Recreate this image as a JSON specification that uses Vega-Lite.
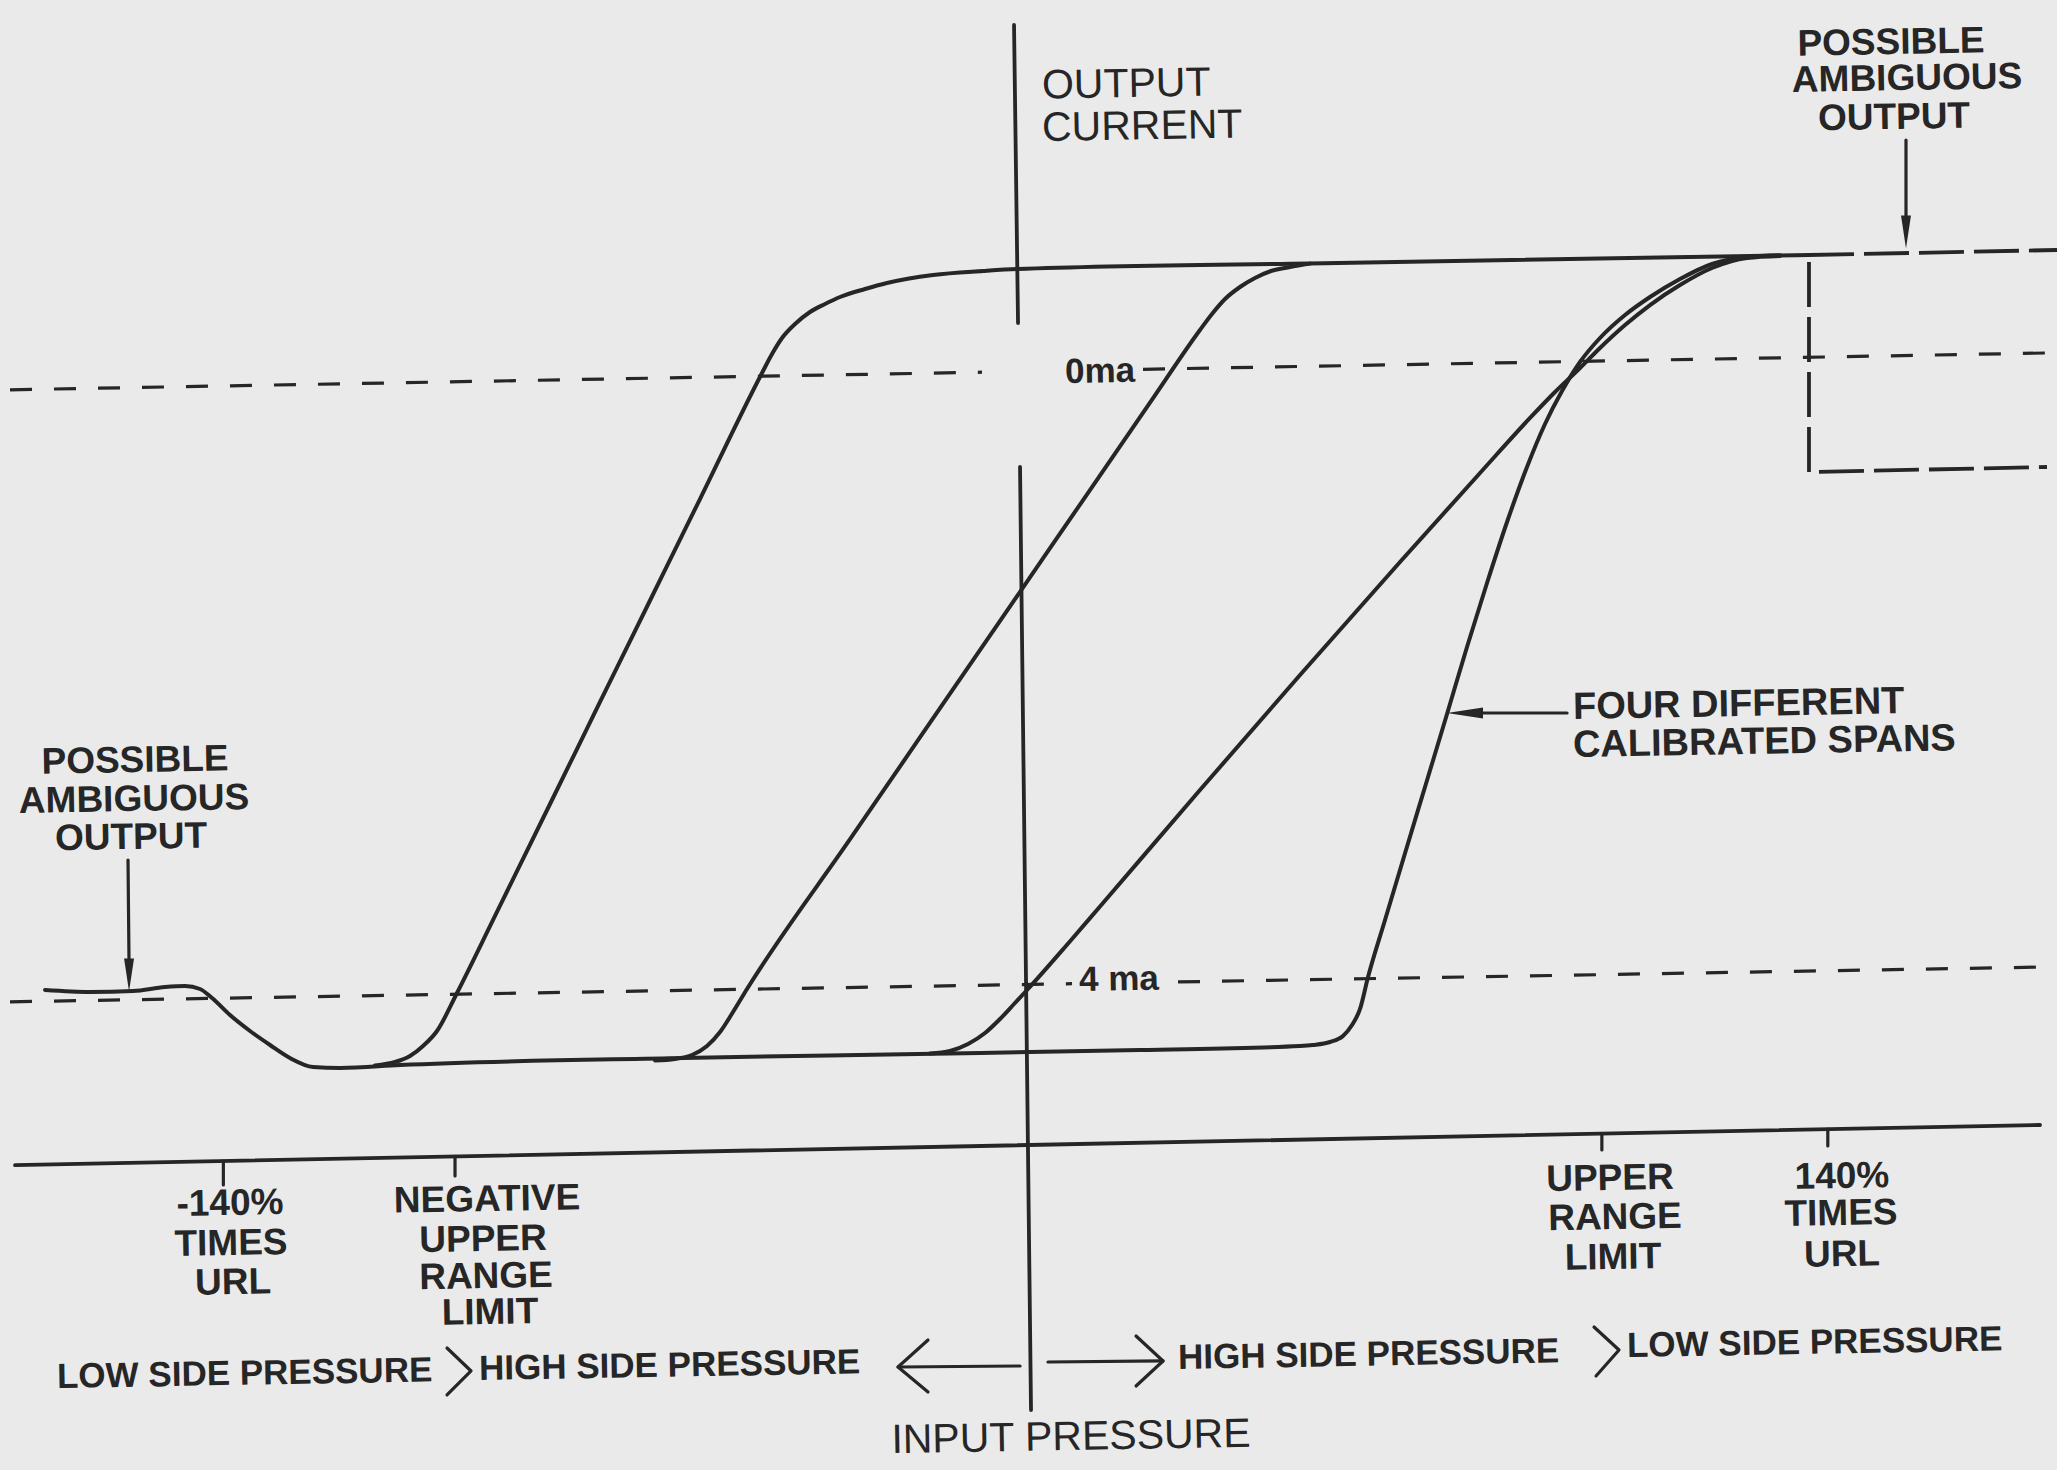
{
  "$schema": "https://vega.github.io/schema/vega-lite/v6.json",
  "width": 2057,
  "height": 1470,
  "padding": 0,
  "autosize": {"type": "none"},
  "background": "#eaeaea",
  "config": {"view": {"stroke": null}, "text": {"font": "Liberation Sans", "color": "#262626"}},
  "encoding": {
    "x": {"field": "x", "type": "quantitative", "scale": {"domain": [-179.55, 180.07], "nice": false, "zero": false}, "axis": null},
    "y": {"field": "y", "type": "quantitative", "scale": {"domain": [-8.676, 29.696], "nice": false, "zero": false}, "axis": null}
  },
  "layer": [
    {
      "data": {"values": [
        {"id": "haxis", "i": 1, "x": -176.92, "y": -0.717}, {"id": "haxis", "i": 2, "x": 177.10, "y": 0.330},
        {"id": "vaxisA", "i": 1, "x": -2.27, "y": 29.043}, {"id": "vaxisA", "i": 2, "x": -1.57, "y": 21.265},
        {"id": "vaxisB", "i": 1, "x": -1.22, "y": 17.506}, {"id": "vaxisB", "i": 2, "x": 0.70, "y": -7.110}
      ]},
      "mark": {"type": "line", "stroke": "#262626", "strokeWidth": 3.8, "strokeCap": "round"},
      "encoding": {"detail": {"field": "id"}, "order": {"field": "i", "type": "quantitative"}}
    },
    {
      "data": {"values": [
        {"id": "c1", "i": 1, "x": -113.99, "y": 1.883}, {"id": "c1", "i": 2, "x": -110.49, "y": 1.974},
        {"id": "c1", "i": 3, "x": -107.87, "y": 2.131}, {"id": "c1", "i": 4, "x": -105.59, "y": 2.392},
        {"id": "c1", "i": 5, "x": -103.15, "y": 2.784}, {"id": "c1", "i": 6, "x": -99.65, "y": 3.776},
        {"id": "c1", "i": 7, "x": -92.13, "y": 6.057}, {"id": "c1", "i": 8, "x": -83.39, "y": 8.709},
        {"id": "c1", "i": 9, "x": -74.65, "y": 11.372}, {"id": "c1", "i": 10, "x": -65.91, "y": 14.021},
        {"id": "c1", "i": 11, "x": -57.17, "y": 16.670}, {"id": "c1", "i": 12, "x": -46.33, "y": 19.960},
        {"id": "c1", "i": 13, "x": -44.58, "y": 20.455}, {"id": "c1", "i": 14, "x": -42.83, "y": 20.873},
        {"id": "c1", "i": 15, "x": -40.56, "y": 21.238}, {"id": "c1", "i": 16, "x": -37.94, "y": 21.552},
        {"id": "c1", "i": 17, "x": -35.31, "y": 21.761}, {"id": "c1", "i": 18, "x": -32.69, "y": 21.943},
        {"id": "c1", "i": 19, "x": -28.32, "y": 22.152}, {"id": "c1", "i": 20, "x": -24.48, "y": 22.309},
        {"id": "c1", "i": 21, "x": -16.43, "y": 22.518}, {"id": "c1", "i": 22, "x": -7.69, "y": 22.622},
        {"id": "c1", "i": 23, "x": -1.75, "y": 22.674}, {"id": "c1", "i": 24, "x": 54.37, "y": 22.831},
        {"id": "c1", "i": 25, "x": 136.71, "y": 23.040},
        {"id": "c2", "i": 1, "x": -65.03, "y": 2.014}, {"id": "c2", "i": 2, "x": -61.54, "y": 2.053},
        {"id": "c2", "i": 3, "x": -58.57, "y": 2.157}, {"id": "c2", "i": 4, "x": -55.94, "y": 2.392},
        {"id": "c2", "i": 5, "x": -53.67, "y": 2.757}, {"id": "c2", "i": 6, "x": -51.40, "y": 3.280},
        {"id": "c2", "i": 7, "x": -48.95, "y": 3.880}, {"id": "c2", "i": 8, "x": -30.94, "y": 7.790},
        {"id": "c2", "i": 9, "x": -13.46, "y": 11.588}, {"id": "c2", "i": 10, "x": 4.02, "y": 15.386},
        {"id": "c2", "i": 11, "x": 21.50, "y": 19.184}, {"id": "c2", "i": 12, "x": 30.24, "y": 21.082},
        {"id": "c2", "i": 13, "x": 32.34, "y": 21.499}, {"id": "c2", "i": 14, "x": 34.62, "y": 21.891},
        {"id": "c2", "i": 15, "x": 37.24, "y": 22.204}, {"id": "c2", "i": 16, "x": 39.86, "y": 22.439},
        {"id": "c2", "i": 17, "x": 42.66, "y": 22.622}, {"id": "c2", "i": 18, "x": 45.98, "y": 22.726},
        {"id": "c2", "i": 19, "x": 49.48, "y": 22.815},
        {"id": "c3", "i": 1, "x": -16.96, "y": 2.196}, {"id": "c3", "i": 2, "x": -13.46, "y": 2.262},
        {"id": "c3", "i": 3, "x": -10.31, "y": 2.444}, {"id": "c3", "i": 4, "x": -7.34, "y": 2.731},
        {"id": "c3", "i": 5, "x": -4.72, "y": 3.097}, {"id": "c3", "i": 6, "x": -2.27, "y": 3.488},
        {"id": "c3", "i": 7, "x": 0.17, "y": 3.880}, {"id": "c3", "i": 8, "x": 7.34, "y": 5.094},
        {"id": "c3", "i": 9, "x": 12.76, "y": 6.033}, {"id": "c3", "i": 10, "x": 30.24, "y": 9.074},
        {"id": "c3", "i": 11, "x": 47.73, "y": 12.076}, {"id": "c3", "i": 12, "x": 65.21, "y": 15.026},
        {"id": "c3", "i": 13, "x": 79.20, "y": 17.349}, {"id": "c3", "i": 14, "x": 87.94, "y": 18.785},
        {"id": "c3", "i": 15, "x": 92.31, "y": 19.463}, {"id": "c3", "i": 16, "x": 96.68, "y": 20.090},
        {"id": "c3", "i": 17, "x": 100.17, "y": 20.612}, {"id": "c3", "i": 18, "x": 104.55, "y": 21.212},
        {"id": "c3", "i": 19, "x": 108.92, "y": 21.734}, {"id": "c3", "i": 20, "x": 114.16, "y": 22.256},
        {"id": "c3", "i": 21, "x": 119.76, "y": 22.700}, {"id": "c3", "i": 22, "x": 125.87, "y": 22.961},
        {"id": "c3", "i": 23, "x": 131.64, "y": 23.014},
        {"id": "c4", "i": 1, "x": -171.68, "y": 3.854}, {"id": "c4", "i": 2, "x": -163.81, "y": 3.802},
        {"id": "c4", "i": 3, "x": -156.29, "y": 3.828}, {"id": "c4", "i": 4, "x": -150.70, "y": 3.932},
        {"id": "c4", "i": 5, "x": -147.20, "y": 3.958}, {"id": "c4", "i": 6, "x": -144.58, "y": 3.880},
        {"id": "c4", "i": 7, "x": -142.48, "y": 3.645}, {"id": "c4", "i": 8, "x": -139.34, "y": 3.201},
        {"id": "c4", "i": 9, "x": -135.84, "y": 2.784}, {"id": "c4", "i": 10, "x": -132.34, "y": 2.418},
        {"id": "c4", "i": 11, "x": -128.85, "y": 2.079}, {"id": "c4", "i": 12, "x": -124.83, "y": 1.844},
        {"id": "c4", "i": 13, "x": -120.10, "y": 1.818}, {"id": "c4", "i": 14, "x": -109.62, "y": 1.896},
        {"id": "c4", "i": 15, "x": -60.14, "y": 2.079}, {"id": "c4", "i": 16, "x": -19.06, "y": 2.183},
        {"id": "c4", "i": 17, "x": 19.76, "y": 2.288}, {"id": "c4", "i": 18, "x": 47.73, "y": 2.392},
        {"id": "c4", "i": 19, "x": 50.00, "y": 2.418}, {"id": "c4", "i": 20, "x": 52.97, "y": 2.496},
        {"id": "c4", "i": 21, "x": 55.24, "y": 2.653}, {"id": "c4", "i": 22, "x": 56.82, "y": 2.940},
        {"id": "c4", "i": 23, "x": 58.22, "y": 3.358}, {"id": "c4", "i": 24, "x": 59.62, "y": 4.193},
        {"id": "c4", "i": 25, "x": 62.59, "y": 5.681}, {"id": "c4", "i": 26, "x": 65.73, "y": 7.247},
        {"id": "c4", "i": 27, "x": 69.58, "y": 9.153}, {"id": "c4", "i": 28, "x": 73.43, "y": 11.058},
        {"id": "c4", "i": 29, "x": 76.92, "y": 12.807}, {"id": "c4", "i": 30, "x": 80.42, "y": 14.478},
        {"id": "c4", "i": 31, "x": 83.92, "y": 16.070}, {"id": "c4", "i": 32, "x": 87.41, "y": 17.506},
        {"id": "c4", "i": 33, "x": 90.56, "y": 18.628}, {"id": "c4", "i": 34, "x": 93.53, "y": 19.489},
        {"id": "c4", "i": 35, "x": 96.68, "y": 20.247}, {"id": "c4", "i": 36, "x": 100.17, "y": 20.873},
        {"id": "c4", "i": 37, "x": 104.55, "y": 21.473}, {"id": "c4", "i": 38, "x": 108.92, "y": 21.943},
        {"id": "c4", "i": 39, "x": 114.16, "y": 22.413}, {"id": "c4", "i": 40, "x": 119.76, "y": 22.805},
        {"id": "c4", "i": 41, "x": 125.87, "y": 22.988}, {"id": "c4", "i": 42, "x": 131.64, "y": 23.030}
      ]},
      "mark": {"type": "line", "stroke": "#262626", "strokeWidth": 4, "strokeCap": "round", "strokeJoin": "round", "interpolate": "monotone"},
      "encoding": {"detail": {"field": "id"}, "order": {"field": "i", "type": "quantitative"}}
    },
    {
      "data": {"values": [
        {"id": "t1", "i": 1, "x": -140.5, "y": -0.610}, {"id": "t1", "i": 2, "x": -140.5, "y": -1.236},
        {"id": "t2", "i": 1, "x": -100, "y": -0.490}, {"id": "t2", "i": 2, "x": -100, "y": -1.001},
        {"id": "t3", "i": 1, "x": 100.5, "y": 0.105}, {"id": "t3", "i": 2, "x": 100.5, "y": -0.323},
        {"id": "t4", "i": 1, "x": 140, "y": 0.220}, {"id": "t4", "i": 2, "x": 140, "y": -0.218},
        {"id": "aTR", "i": 1, "x": 153.67, "y": 26.041}, {"id": "aTR", "i": 2, "x": 153.67, "y": 23.823},
        {"id": "aL", "i": 1, "x": -157.17, "y": 7.247}, {"id": "aL", "i": 2, "x": -156.99, "y": 4.506},
        {"id": "aSpan", "i": 1, "x": 77.45, "y": 11.084}, {"id": "aSpan", "i": 2, "x": 94.41, "y": 11.084},
        {"id": "lHead", "i": 1, "x": -17.31, "y": -5.282}, {"id": "lHead", "i": 2, "x": -22.55, "y": -5.987}, {"id": "lHead", "i": 3, "x": -17.31, "y": -6.640},
        {"id": "lShaft", "i": 1, "x": -22.55, "y": -5.987}, {"id": "lShaft", "i": 2, "x": -1.22, "y": -5.961},
        {"id": "rHead", "i": 1, "x": 19.06, "y": -5.178}, {"id": "rHead", "i": 2, "x": 23.78, "y": -5.830}, {"id": "rHead", "i": 3, "x": 19.06, "y": -6.483},
        {"id": "rShaft", "i": 1, "x": 3.67, "y": -5.857}, {"id": "rShaft", "i": 2, "x": 23.78, "y": -5.830},
        {"id": "chevL", "i": 1, "x": -101.40, "y": -5.491}, {"id": "chevL", "i": 2, "x": -97.20, "y": -6.091}, {"id": "chevL", "i": 3, "x": -101.40, "y": -6.718},
        {"id": "chevR", "i": 1, "x": 99.13, "y": -4.943}, {"id": "chevR", "i": 2, "x": 103.50, "y": -5.543}, {"id": "chevR", "i": 3, "x": 99.48, "y": -6.222}
      ]},
      "mark": {"type": "line", "stroke": "#262626", "strokeWidth": 3.2, "strokeCap": "round", "strokeJoin": "round"},
      "encoding": {"detail": {"field": "id"}, "order": {"field": "i", "type": "quantitative"}}
    },
    {
      "data": {"values": [
        {"id": "d20L", "i": 1, "x": -177.80, "y": 19.521}, {"id": "d20L", "i": 2, "x": -7.87, "y": 19.980},
        {"id": "d20R", "i": 1, "x": 20.28, "y": 20.056}, {"id": "d20R", "i": 2, "x": 178.32, "y": 20.482},
        {"id": "d4L", "i": 1, "x": -177.80, "y": 3.546}, {"id": "d4L", "i": 2, "x": 7.87, "y": 4.018},
        {"id": "d4R", "i": 1, "x": 26.40, "y": 4.065}, {"id": "d4R", "i": 2, "x": 180.07, "y": 4.459}
      ]},
      "mark": {"type": "line", "stroke": "#262626", "strokeWidth": 3.2, "strokeDash": [22, 22]},
      "encoding": {"detail": {"field": "id"}, "order": {"field": "i", "type": "quantitative"}}
    },
    {
      "data": {"values": [
        {"id": "topDash", "i": 1, "x": 136.71, "y": 23.040}, {"id": "topDash", "i": 2, "x": 180.07, "y": 23.170},
        {"id": "box", "i": 1, "x": 136.71, "y": 22.857}, {"id": "box", "i": 2, "x": 136.71, "y": 17.375}, {"id": "box", "i": 3, "x": 178.32, "y": 17.506}
      ]},
      "mark": {"type": "line", "stroke": "#262626", "strokeWidth": 3.8, "strokeDash": [45, 10]},
      "encoding": {"detail": {"field": "id"}, "order": {"field": "i", "type": "quantitative"}}
    },
    {
      "data": {"values": [
        {"x": 153.67, "y": 23.640},
        {"x": -156.99, "y": 4.245}
      ]},
      "mark": {"type": "point", "shape": "M -0.3,-1 L 0.3,-1 L 0,1 Z", "size": 1100, "filled": true, "color": "#262626", "opacity": 1}
    },
    {
      "data": {"values": [
        {"x": 76.57, "y": 11.084}
      ]},
      "mark": {"type": "point", "shape": "M 1,-0.3 L 1,0.3 L -1,0 Z", "size": 1300, "filled": true, "color": "#262626", "opacity": 1}
    },
    {
      "data": {"values": [
        {"t": "POSSIBLE", "x": -155.94, "y": 9.831},
        {"t": "AMBIGUOUS", "x": -156.12, "y": 8.813},
        {"t": "OUTPUT", "x": -156.64, "y": 7.821},
        {"t": "POSSIBLE", "x": 151.05, "y": 28.573},
        {"t": "AMBIGUOUS", "x": 153.85, "y": 27.634},
        {"t": "OUTPUT", "x": 151.57, "y": 26.616},
        {"t": "-140%", "x": -139.34, "y": -1.732},
        {"t": "TIMES", "x": -139.16, "y": -2.776},
        {"t": "URL", "x": -138.81, "y": -3.794},
        {"t": "NEGATIVE", "x": -94.41, "y": -1.628},
        {"t": "UPPER", "x": -95.10, "y": -2.672},
        {"t": "RANGE", "x": -94.58, "y": -3.638},
        {"t": "LIMIT", "x": -93.88, "y": -4.577},
        {"t": "UPPER", "x": 101.92, "y": -1.080},
        {"t": "RANGE", "x": 102.80, "y": -2.098},
        {"t": "LIMIT", "x": 102.45, "y": -3.142},
        {"t": "140%", "x": 142.48, "y": -1.027},
        {"t": "TIMES", "x": 142.31, "y": -1.993},
        {"t": "URL", "x": 142.48, "y": -3.063}
      ]},
      "mark": {"type": "text", "fontSize": 37, "fontWeight": "bold", "align": "center", "baseline": "middle", "angle": 359},
      "encoding": {"text": {"field": "t"}}
    },
    {
      "data": {"values": [
        {"t": "FOUR DIFFERENT", "x": 95.45, "y": 11.215},
        {"t": "CALIBRATED SPANS", "x": 95.45, "y": 10.223}
      ]},
      "mark": {"type": "text", "fontSize": 38, "fontWeight": "bold", "align": "left", "baseline": "middle", "angle": 359},
      "encoding": {"text": {"field": "t"}}
    },
    {
      "data": {"values": [
        {"t": "LOW SIDE PRESSURE", "x": -169.58, "y": -6.248},
        {"t": "HIGH SIDE PRESSURE", "x": -95.80, "y": -6.039},
        {"t": "HIGH SIDE PRESSURE", "x": 26.40, "y": -5.752},
        {"t": "LOW SIDE PRESSURE", "x": 104.90, "y": -5.439}
      ]},
      "mark": {"type": "text", "fontSize": 35, "fontWeight": "bold", "align": "left", "baseline": "middle", "angle": 359},
      "encoding": {"text": {"field": "t"}}
    },
    {
      "data": {"values": [
        {"t": "OUTPUT", "x": 2.62, "y": 27.438},
        {"t": "CURRENT", "x": 2.62, "y": 26.328}
      ]},
      "mark": {"type": "text", "fontSize": 41, "align": "left", "baseline": "middle", "angle": 359},
      "encoding": {"text": {"field": "t"}}
    },
    {
      "data": {"values": [
        {"t": "INPUT PRESSURE", "x": 7.69, "y": -7.840}
      ]},
      "mark": {"type": "text", "fontSize": 41, "align": "center", "baseline": "middle", "angle": 359},
      "encoding": {"text": {"field": "t"}}
    },
    {
      "data": {"values": [
        {"t": "0ma", "x": 6.64, "y": 19.986},
        {"t": "4 ma", "x": 9.09, "y": 4.115}
      ]},
      "mark": {"type": "text", "fontSize": 35, "fontWeight": "bold", "align": "left", "baseline": "middle", "angle": 359},
      "encoding": {"text": {"field": "t"}}
    }
  ]
}
